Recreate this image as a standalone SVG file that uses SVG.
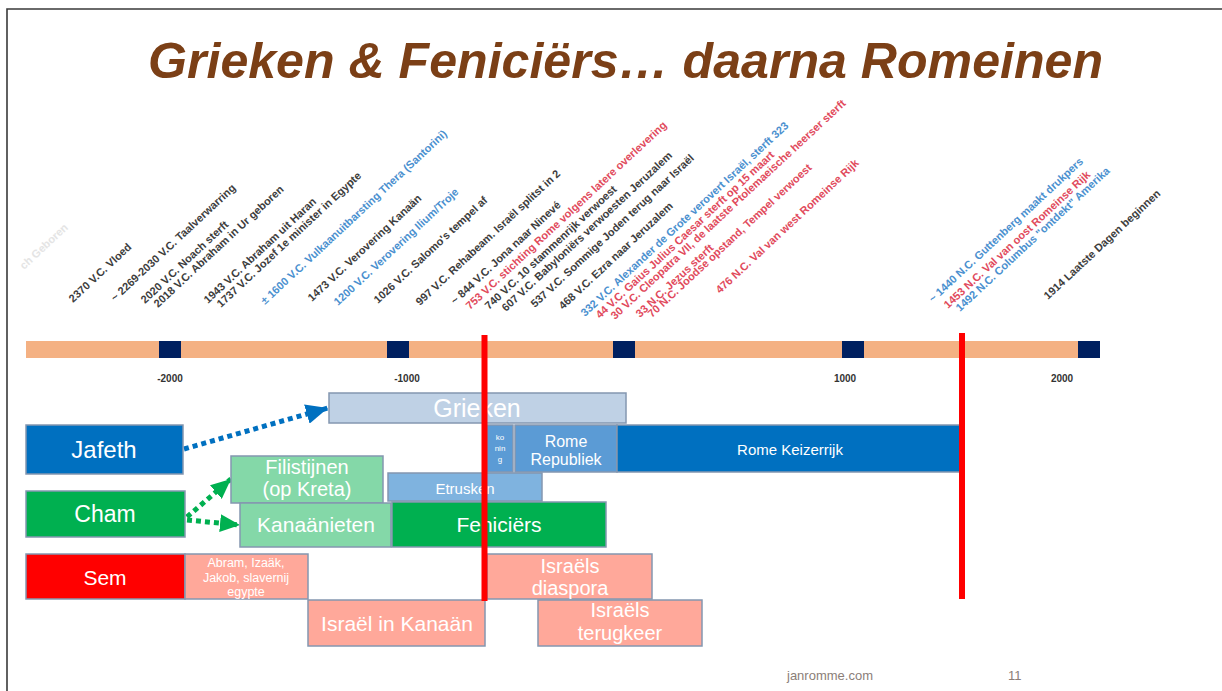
<svg xmlns="http://www.w3.org/2000/svg" width="1222" height="691" viewBox="0 0 1222 691">
<style>
.title{font-family:"Liberation Sans",Arial,sans-serif;font-weight:bold;font-style:italic;font-size:50px;fill:#7B3F16}
.lab{font-family:"Liberation Sans",Arial,sans-serif;font-weight:bold;font-size:11px}
.d{fill:#3d3d3d}.b{fill:#4a90cf}.r{fill:#e14a5c}.f{fill:#e4e4e4}
.axis{font-family:"Liberation Sans",Arial,sans-serif;font-weight:bold;font-size:10px;fill:#333;text-anchor:middle}
.bx{stroke:#8497B0;stroke-width:1.5}
.t{font-family:"Liberation Sans",Arial,sans-serif;fill:#fff;text-anchor:middle}
.foot{font-family:"Liberation Sans",Arial,sans-serif;font-size:13px;fill:#8b7e78}
.dot{fill:none;stroke-width:5;stroke-dasharray:5 4}
</style>
<defs>
<marker id="ab" markerUnits="userSpaceOnUse" markerWidth="22" markerHeight="20" refX="22" refY="10" orient="auto"><path d="M0,0 L22,10 L0,20 Z" fill="#0070C0"/></marker>
<marker id="ag" markerUnits="userSpaceOnUse" markerWidth="20" markerHeight="18" refX="20" refY="9" orient="auto"><path d="M0,0 L20,9 L0,18 Z" fill="#00B050"/></marker>
</defs>
<rect width="1222" height="691" fill="#fff"/>
<path d="M7,691 V9 H1222" fill="none" stroke="#3a3a3a" stroke-width="1.6"/>
<text class="title" x="625.5" y="78" text-anchor="middle" textLength="955" lengthAdjust="spacingAndGlyphs">Grieken &amp; Feniciërs… daarna Romeinen</text>

<g id="labels" class="lab">
<text class="f" transform="translate(24,270) rotate(-43)">ch Geboren</text>
<text class="d" transform="translate(73,303) rotate(-43)">2370 V.C. Vloed</text>
<text class="d" transform="translate(115,302) rotate(-43)">~ 2269-2030 V.C. Taalverwarring</text>
<text class="d" transform="translate(145,304) rotate(-43)">2020 V.C. Noach sterft</text>
<text class="d" transform="translate(158,308) rotate(-43)">2018 V.C. Abraham in Ur geboren</text>
<text class="d" transform="translate(208,304) rotate(-43)">1943 V.C. Abraham uit Haran</text>
<text class="d" transform="translate(221,308) rotate(-43)">1737 V.C. Jozef 1e minister in Egypte</text>
<text class="b" transform="translate(265,305) rotate(-43)">± 1600 V.C. Vulkaanuitbarsting Thera (Santorini)</text>
<text class="d" transform="translate(312,302) rotate(-43)">1473 V.C. Verovering Kanaän</text>
<text class="b" transform="translate(338,306) rotate(-43)">1200 V.C. Verovering Ilium/Troje</text>
<text class="d" transform="translate(378,304) rotate(-43)">1026 V.C. Salomo's tempel af</text>
<text class="d" transform="translate(420,306) rotate(-43)">997 V.C. Rehabeam. Israël splitst in 2</text>
<text class="d" transform="translate(455,305) rotate(-43)">~ 844 V.C. Jona naar Ninevé</text>
<text class="r" transform="translate(470,310) rotate(-43)">753 V.C. stichting Rome volgens latere overlevering</text>
<text class="d" transform="translate(489,310) rotate(-43)">740 V.C. 10 stammenrijk verwoest</text>
<text class="d" transform="translate(506,312) rotate(-43)">607 V.C. Babyloniërs verwoesten Jeruzalem</text>
<text class="d" transform="translate(535,308) rotate(-43)">537 V.C. Sommige Joden terug naar Israël</text>
<text class="d" transform="translate(563,310) rotate(-43)">468 V.C. Ezra naar Jeruzalem</text>
<text class="b" transform="translate(585,317) rotate(-43)">332 V.C. Alexander de Grote verovert Israël, sterft 323</text>
<text class="r" transform="translate(600,319) rotate(-43)">44 V.C. Gaius Julius Caesar sterft op 15 maart</text>
<text class="r" transform="translate(615,320) rotate(-43)">30 V.C. Cleopatra VII, de laatste Ptolemaeische heerser sterft</text>
<text class="r" transform="translate(640,318) rotate(-43)">33 N.C. Jezus sterft</text>
<text class="r" transform="translate(652,318) rotate(-43)">70 N.C. Joodse opstand, Tempel verwoest</text>
<text class="r" transform="translate(720,294) rotate(-43)">476 N.C. Val van west Romeinse Rijk</text>
<text class="b" transform="translate(933,303) rotate(-43)">~ 1440 N.C. Guttenberg maakt drukpers</text>
<text class="r" transform="translate(948,309) rotate(-43)">1453 N.C. Val van oost Romeinse Rijk</text>
<text class="b" transform="translate(960,312) rotate(-43)">1492 N.C. Columbus "ontdekt" Amerika</text>
<text class="d" transform="translate(1048,300) rotate(-43)">1914 Laatste Dagen beginnen</text>
</g>

<g id="timeline">
<rect x="26" y="341" width="1074" height="17" fill="#F4B183"/>
<rect x="159" y="341" width="22" height="17" fill="#002060"/>
<rect x="387" y="341" width="22" height="17" fill="#002060"/>
<rect x="613" y="341" width="22" height="17" fill="#002060"/>
<rect x="842" y="341" width="22" height="17" fill="#002060"/>
<rect x="1078" y="341" width="22" height="17" fill="#002060"/>
<text class="axis" x="170" y="382">-2000</text>
<text class="axis" x="407" y="382">-1000</text>
<text class="axis" x="845" y="382">1000</text>
<text class="axis" x="1062" y="382">2000</text>
</g>

<g id="connectors">
<path class="dot" d="M184,449 L328,408" stroke="#0070C0" marker-end="url(#ab)"/>
<path class="dot" d="M187,517 L231,479" stroke="#00B050" marker-end="url(#ag)"/>
<path class="dot" d="M187,520 L240,525" stroke="#00B050" marker-end="url(#ag)"/>
</g>

<g id="grieken"><rect class="bx" x="329" y="393" width="297" height="30" fill="#BFD1E5"/><text class="t" x="477" y="417" font-size="25">Grieken</text></g>
<g id="jafeth"><rect class="bx" x="26" y="425" width="157" height="49" fill="#0070C0"/><text class="t" x="104" y="458" font-size="24">Jafeth</text></g>
<g id="koning"><rect class="bx" x="487" y="425" width="26" height="47" fill="#5B9BD5"/><text class="t" x="500" y="440" font-size="8"><tspan x="500">ko</tspan><tspan x="500" dy="11">nin</tspan><tspan x="500" dy="11">g</tspan></text></g>
<g id="republiek"><rect class="bx" x="515" y="425" width="102" height="47" fill="#5B9BD5"/><text class="t" x="566" y="447" font-size="16"><tspan x="566">Rome</tspan><tspan x="566" dy="18">Republiek</tspan></text></g>
<g id="keizerrijk"><rect class="bx" x="617" y="425" width="343" height="47" fill="#0070C0"/><text class="t" x="790" y="455" font-size="15">Rome Keizerrijk</text></g>
<g id="filistijnen"><rect class="bx" x="231" y="456" width="152" height="47" fill="#84D8A8"/><text class="t" x="307" y="474" font-size="20"><tspan x="307">Filistijnen</tspan><tspan x="307" dy="22">(op Kreta)</tspan></text></g>
<g id="etrusken"><rect class="bx" x="388" y="473" width="154" height="28" fill="#7FB3DF"/><text class="t" x="465" y="494" font-size="15">Etrusken</text></g>
<g id="cham"><rect class="bx" x="26" y="491" width="159" height="46" fill="#00B050"/><text class="t" x="105" y="522" font-size="23">Cham</text></g>
<g id="kanaanieten"><rect class="bx" x="240" y="503" width="151" height="44" fill="#84D8A8"/><text class="t" x="316" y="532" font-size="21">Kanaänieten</text></g>
<g id="feniciers"><rect class="bx" x="392" y="502" width="214" height="45" fill="#00B050"/><text class="t" x="499" y="532" font-size="21">Feniciërs</text></g>
<g id="sem"><rect class="bx" x="26" y="554" width="159" height="45" fill="#FF0000"/><text class="t" x="105" y="585" font-size="21">Sem</text></g>
<g id="abram"><rect class="bx" x="185" y="554" width="123" height="45" fill="#FFA89A"/><text class="t" x="246" y="567" font-size="12.5"><tspan x="246">Abram, Izaäk,</tspan><tspan x="246" dy="14.5">Jakob, slavernij</tspan><tspan x="246" dy="14.5">egypte</tspan></text></g>
<g id="diaspora"><rect class="bx" x="487" y="554" width="165" height="45" fill="#FFA89A"/><text class="t" x="570" y="573" font-size="20"><tspan x="570">Israëls</tspan><tspan x="570" dy="22">diaspora</tspan></text></g>
<g id="kanaan"><rect class="bx" x="308" y="600" width="177" height="46" fill="#FFA89A"/><text class="t" x="397" y="631" font-size="21">Israël in Kanaän</text></g>
<g id="terugkeer"><rect class="bx" x="538" y="600" width="164" height="46" fill="#FFA89A"/><text class="t" x="620" y="617" font-size="20"><tspan x="620">Israëls</tspan><tspan x="620" dy="23">terugkeer</tspan></text></g>

<g id="markers">
<rect x="481.5" y="335" width="6" height="266" fill="#FF0000"/>
<rect x="959" y="333" width="6" height="266" fill="#FF0000"/>
</g>

<text class="foot" x="787" y="680">janromme.com</text>
<text class="foot" x="1008" y="680">11</text>
</svg>
